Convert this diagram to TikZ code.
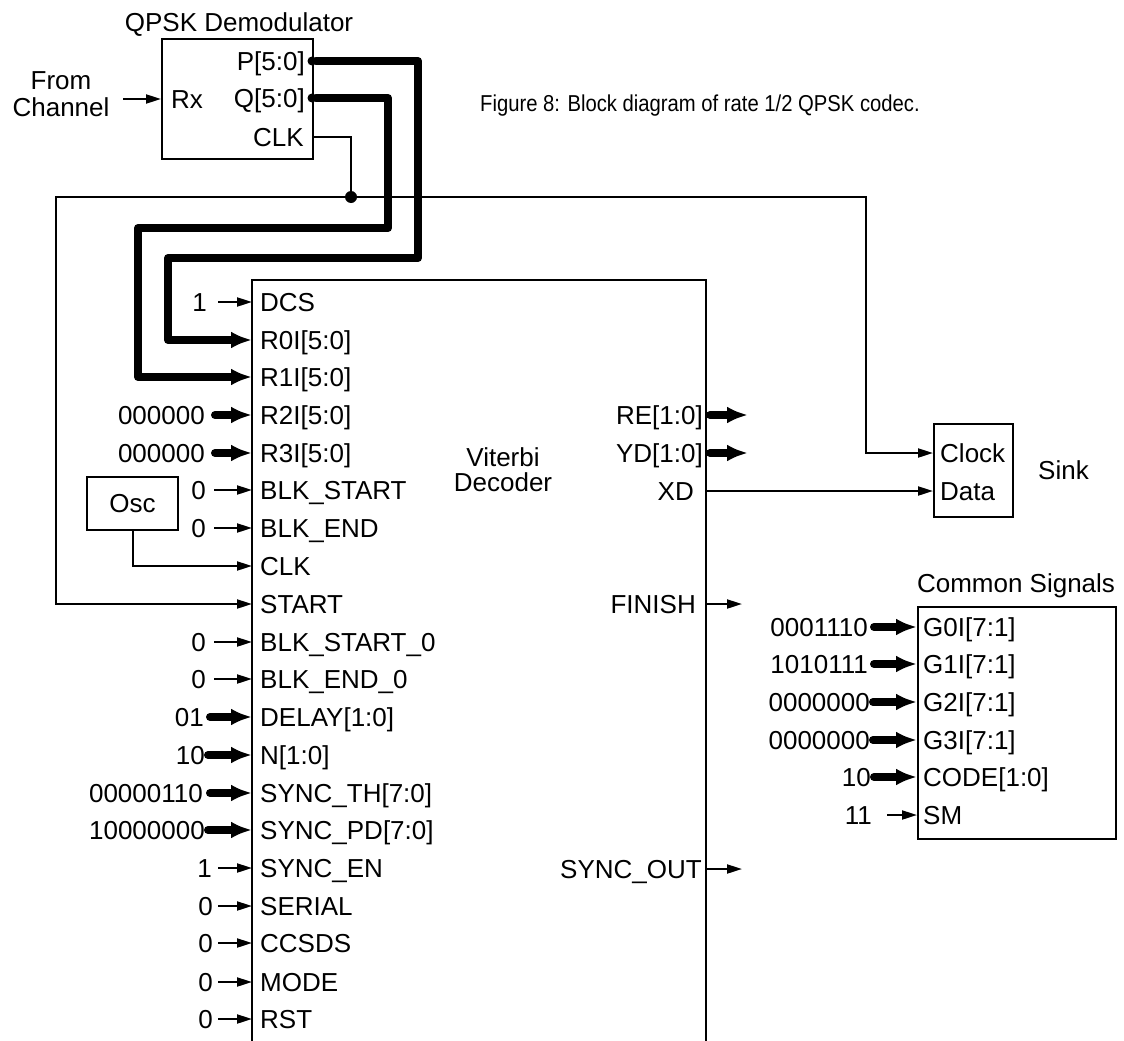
\documentclass[tikz,border=0pt]{standalone}
\usepackage{fontspec}
\usepackage{graphicx}
\setmainfont{Liberation Sans}
\usetikzlibrary{arrows.meta}
\begin{document}
\begin{tikzpicture}[x=1pt,y=-1pt,
 lbl/.style={inner sep=0pt, text height=18.6pt, text depth=0pt, font=\fontsize{26}{30}\selectfont},
 thinw/.style={line width=2pt},
 tarr/.style={line width=2pt, -{Triangle[length=15pt,width=9pt]}},
 barr/.style={line width=8pt, line cap=round, line join=round, -{Latex[length=21pt,width=17pt]}},
 box/.style={draw, line width=2pt, inner sep=0pt},
]
\useasboundingbox (0,0) rectangle (1124,1041);

% ---------- QPSK demodulator ----------
\node[box, minimum width=151pt, minimum height=120pt, anchor=north west] (qpsk) at (161,38) {};
\node[lbl] (qtitle) at (239,22) {QPSK Demodulator};
\node[lbl, anchor=east] (qPl) at (305,61) {P[5:0]};
\node[lbl, anchor=east] (qQl) at (305,98) {Q[5:0]};
\node[lbl, anchor=east] (qCl) at (304,137) {CLK};
\node[lbl, anchor=west] (qRx) at (171,99) {Rx};
\node[lbl] (from) at (61,80) {From};
\node[lbl] (chan) at (61,107) {Channel};
\coordinate (qP) at (312,61);
\coordinate (qQ) at (312,98);
\coordinate (qC) at (312,137);
\coordinate (qIn) at (161,99);
\coordinate (fcS) at (123,99);
\draw[tarr] (fcS) -- (qIn);

% ---------- caption ----------
\node[inner sep=0pt, anchor=west, font=\fontsize{23}{27}\selectfont, text height=16.5pt, text depth=0pt] (cap) at (480,103) {\scalebox{0.88}[1]{Figure 8: Block diagram of rate 1/2 QPSK codec.}};

% ---------- main box ----------
\coordinate (mBL) at (252,1045);
\coordinate (mTL) at (252,280);
\coordinate (mTR) at (706,280);
\coordinate (mBR) at (706,1045);
\draw[thinw] (mBL) -- (mTL) -- (mTR) -- (mBR);
\node[lbl] (vit1) at (503,457) {Viterbi};
\node[lbl] (vit2) at (503,482) {Decoder};

% left pins
\foreach \y/\t [count=\i] in {302/DCS, 340/{R0I[5:0]}, 377/{R1I[5:0]}, 415/{R2I[5:0]}, 453/{R3I[5:0]},
  490/BLK\_START, 528/BLK\_END, 566/CLK, 604/START, 642/BLK\_START\_0, 679/BLK\_END\_0,
  717/{DELAY[1:0]}, 755/{N[1:0]}, 793/{SYNC\_TH[7:0]}, 830/{SYNC\_PD[7:0]}, 868/SYNC\_EN,
  906/SERIAL, 943/CCSDS, 982/MODE, 1019/RST}{
  \node[lbl, anchor=west] (L\i) at (260,\y) {\t};
  \coordinate (P\i) at (252,\y);
}

% constant inputs
\foreach \i/\y/\v/\xe/\g/\s in {1/302/1/207/11/tarr, 4/415/000000/205/10/barr, 5/453/000000/205/10/barr,
  6/490/0/206/8/tarr, 7/528/0/206/8/tarr, 10/642/0/206/8/tarr, 11/679/0/206/8/tarr,
  12/717/01/204/6/barr, 13/755/10/205/3/barr, 14/793/00000110/203/7/barr, 15/830/10000000/205/3/barr,
  16/868/1/212/6/tarr, 17/906/0/213/5/tarr, 18/943/0/213/5/tarr, 19/982/0/213/5/tarr, 20/1019/0/213/5/tarr}{
  \node[lbl, anchor=east] (V\i) at (\xe,\y) {\v};
  \draw[\s] ([xshift=\g pt]V\i.east) -- (P\i);
}

% buses from QPSK
\coordinate (pa) at (418,258);
\coordinate (pb) at (168,340);
\coordinate (qa) at (388,228);
\coordinate (qb) at (138,377);
\draw[barr] ([xshift=4pt]qP) -| (pa) -| (pb) -- (P2);
\draw[barr] ([xshift=4pt]qQ) -| (qa) -| (qb) -- (P3);
\fill (qP) circle (4.5pt);
\fill (qQ) circle (4.5pt);

% clock distribution
\coordinate (J) at (351,197);
\coordinate (cl) at (56,197);
\coordinate (cr) at (866,197);
\draw[thinw] (qC) -| (J);
\draw[tarr] (J) -- (cl) |- (P9);

% Osc
\node[box, minimum width=91pt, minimum height=53pt, anchor=north west] (osc) at (86,476) {};
\node[lbl] (oscl) at (osc.center) {Osc};
\draw[tarr] (osc.south) |- (P8);

% right outputs
\node[lbl, anchor=east] (RE) at (703,415) {RE[1:0]};
\node[lbl, anchor=east] (YD) at (703,453) {YD[1:0]};
\node[lbl, anchor=east] (XD) at (694,491) {XD};
\node[lbl, anchor=east] (FIN) at (696,604) {FINISH};
\node[lbl, anchor=east] (SO) at (702,869) {SYNC\_OUT};
\coordinate (oRE) at (710,415); \coordinate (tRE) at (748,415);
\coordinate (oYD) at (710,453); \coordinate (tYD) at (748,453);
\coordinate (oXD) at (706,491);
\coordinate (oFI) at (706,604); \coordinate (tFI) at (742,604);
\coordinate (oSO) at (706,869); \coordinate (tSO) at (742,869);
\draw[barr] (oRE) -- (tRE);
\draw[barr] (oYD) -- (tYD);
\draw[tarr] (oFI) -- (tFI);
\draw[tarr] (oSO) -- (tSO);

% Sink
\node[box, minimum width=79pt, minimum height=93pt, anchor=north west] (sink) at (933,423) {};
\node[lbl, anchor=west] (sclkl) at (940,453) {Clock};
\node[lbl, anchor=west] (sdatl) at (940,491) {Data};
\node[lbl, anchor=west] (sinkl) at (1038,470) {Sink};
\coordinate (sC) at (933,453);
\coordinate (sD) at (933,491);
\draw[tarr] (J) -- (cr) |- (sC);
\draw[tarr] (oXD) -- (sD);
\fill (J) circle (6pt);

% Common signals
\node[box, minimum width=198pt, minimum height=232pt, anchor=north west] (common) at (917,606) {};
\node[lbl] (ctitle) at (1016,583) {Common Signals};
\foreach \y/\t/\v/\xe/\g/\s [count=\i] in {627/{G0I[7:1]}/0001110/868/6/barr, 664/{G1I[7:1]}/1010111/868/6/barr,
  702/{G2I[7:1]}/0000000/870/3/barr, 740/{G3I[7:1]}/0000000/870/3/barr,
  777/{CODE[1:0]}/10/871/3/barr, 815/SM/11/872/15/tarr}{
  \node[lbl, anchor=west] (C\i) at (923,\y) {\t};
  \coordinate (CP\i) at (917,\y);
  \node[lbl, anchor=east] (CV\i) at (\xe,\y) {\v};
  \draw[\s] ([xshift=\g pt]CV\i.east) -- (CP\i);
}
\end{tikzpicture}
\end{document}
